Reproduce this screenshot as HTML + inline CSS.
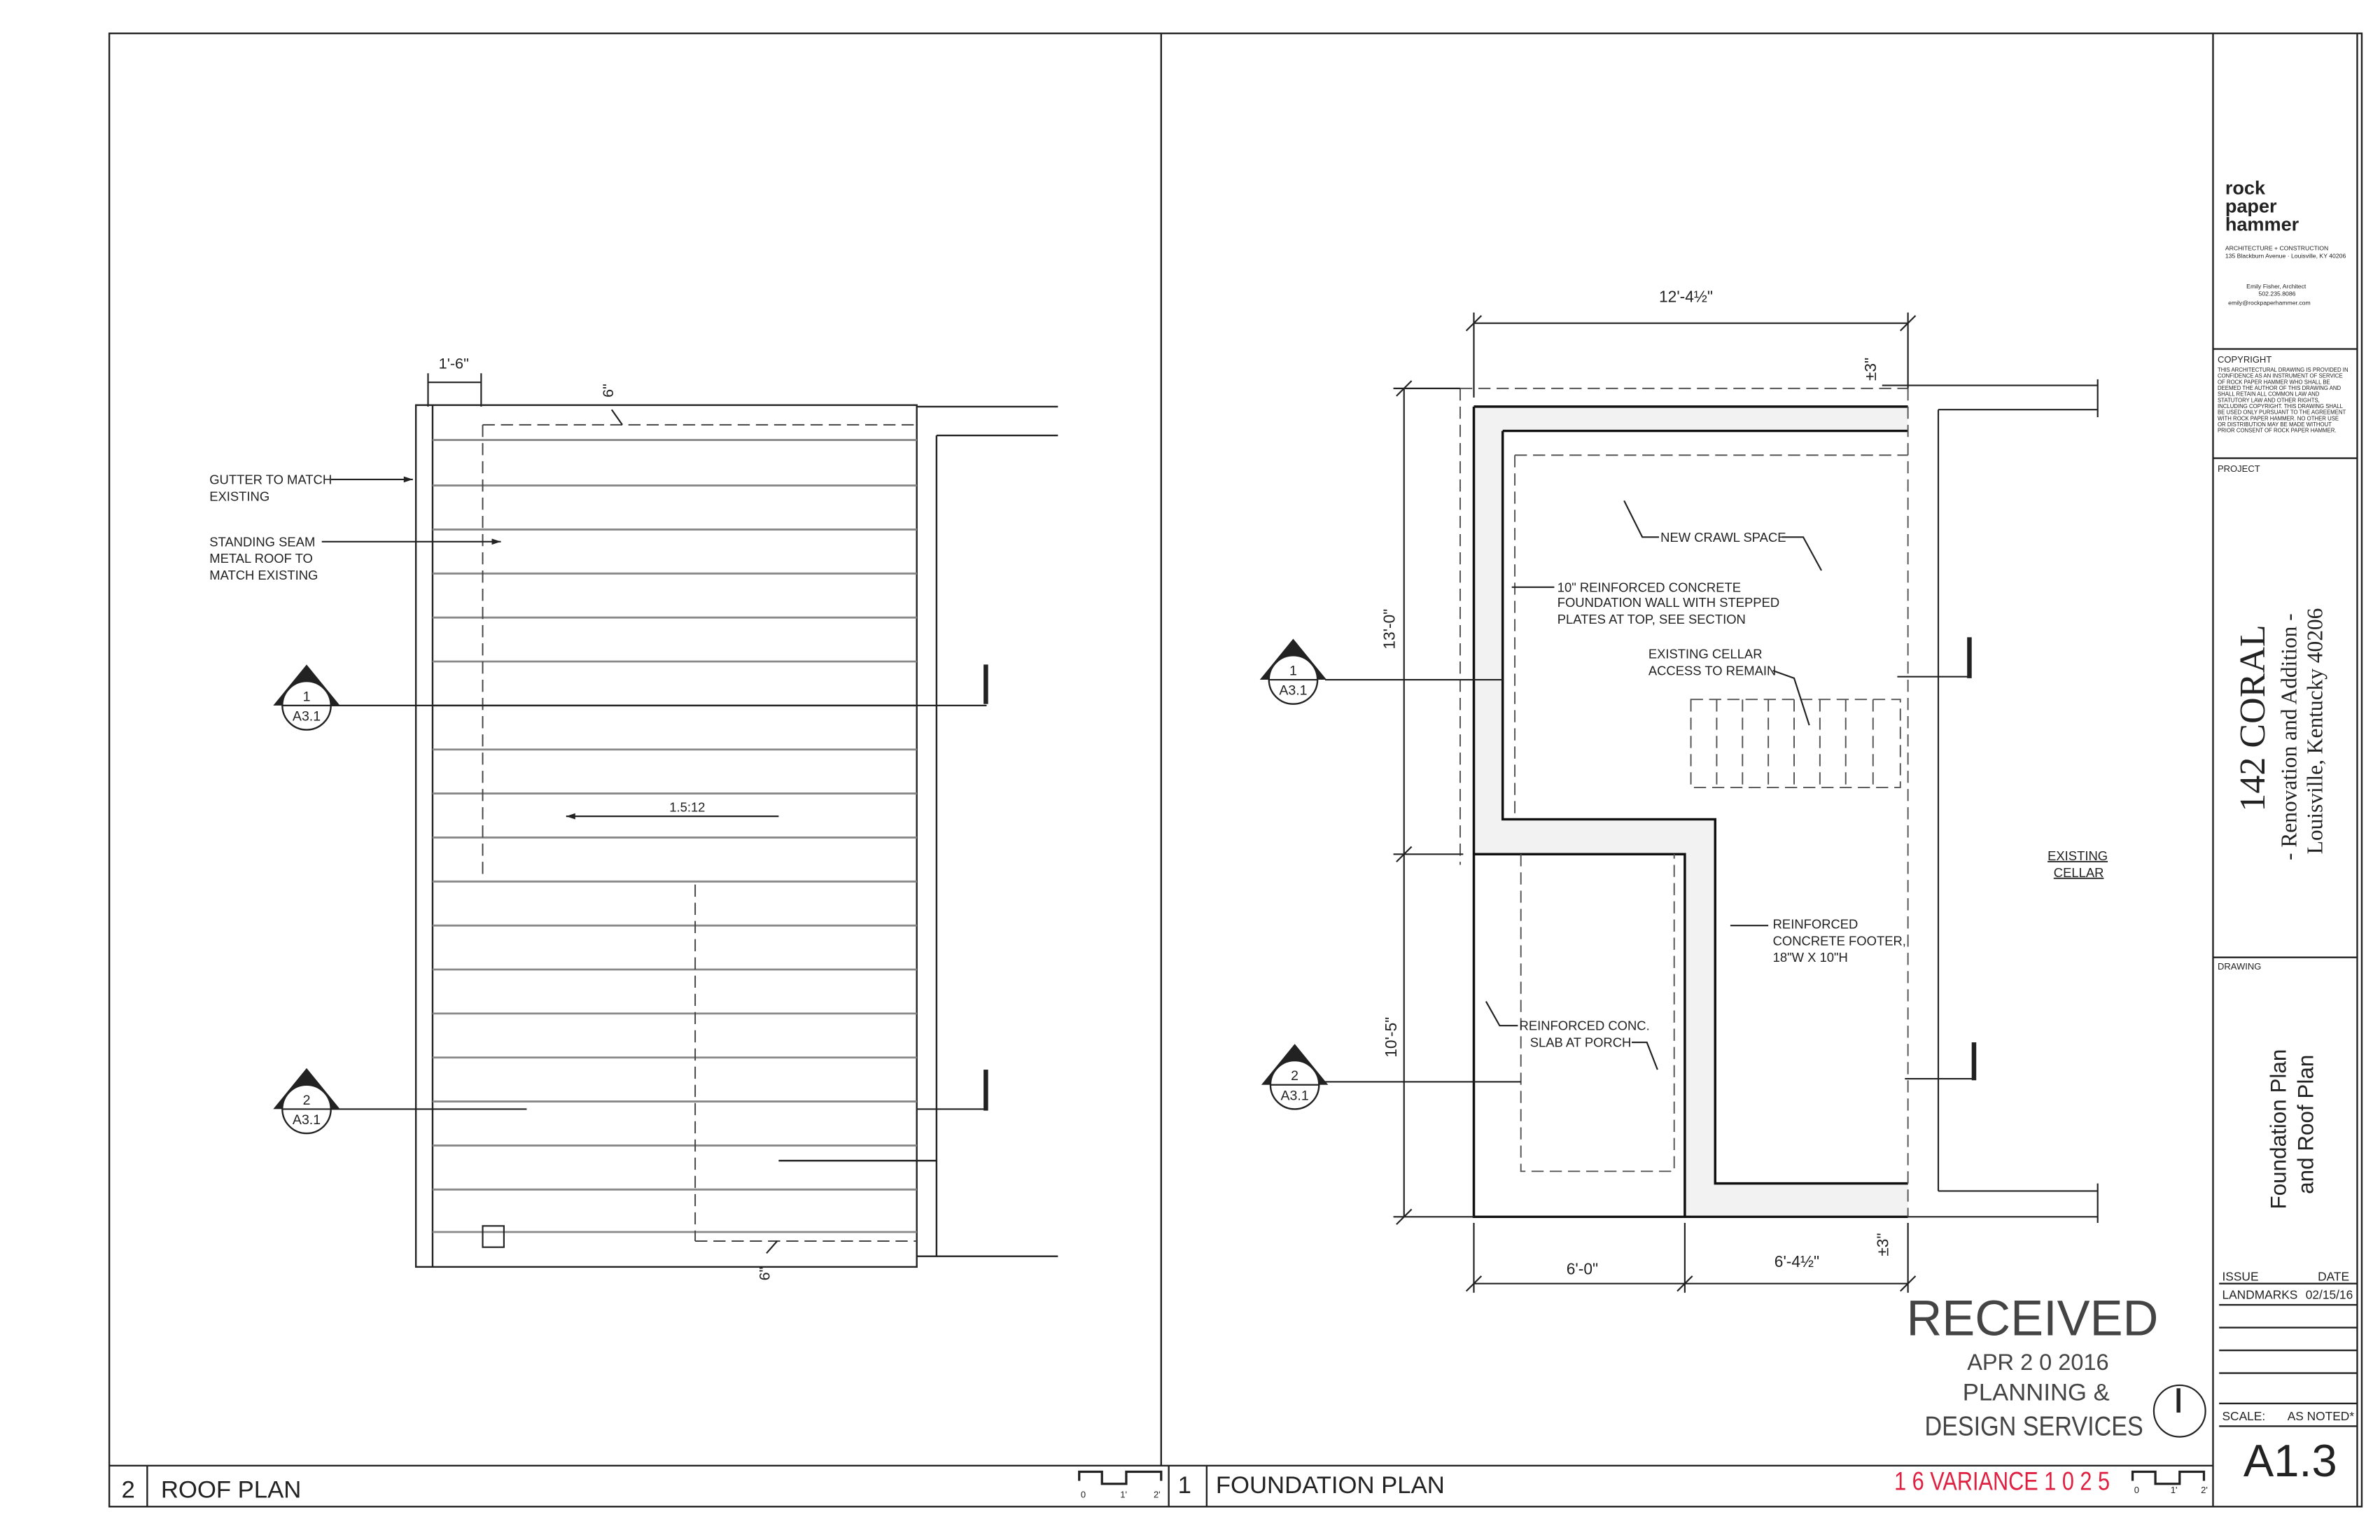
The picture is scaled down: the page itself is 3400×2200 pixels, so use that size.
<!DOCTYPE html>
<html><head><meta charset="utf-8"><style>
html,body{margin:0;padding:0;background:#fff}
svg{display:block}
text{font-family:"Liberation Sans",sans-serif;fill:#222}
</style></head><body>
<svg width="3400" height="2200" viewBox="0 0 1568 1015" preserveAspectRatio="none" xmlns="http://www.w3.org/2000/svg">
<rect width="1568" height="1015" fill="#fff"/>
<g stroke="#222" fill="none" stroke-width="1.1">
<path d="M72 22 H1556 V993 H72 Z"/>
<path d="M765 22 V966 M770 966 V993 M1458 22 V993 M72 966 H1458 M97 966 V993 M795 966 V993"/>
<path d="M1458 230 H1553 M1458 302 H1553 M1458 631 H1553 M1462 846 H1553 M1462 860 H1553 M1462 875 H1553 M1462 890 H1553 M1462 905 H1553 M1462 925 H1553 M1462 940 H1553 M1553 22 V993"/>
<rect x="274" y="267" width="330" height="568"/>
<path d="M285 267 V835"/>
<path d="M604 268 H697 M617 287 H697 M617 287 V828 M604 828 H697 M513 765 H617"/>
</g>
<g stroke="#888" stroke-width="1.3">
<path d="M285 290H604M285 320H604M285 349H604M285 378H604M285 407H604M285 436H604M285 465H604M285 494H604M285 523H604M285 552H604M285 581H604M285 610H604M285 639H604M285 668H604M285 697H604M285 726H604M285 755H604M285 784H604M285 812H604"/>
</g>
<g stroke="#444" fill="none" stroke-width="0.9" stroke-dasharray="8 4">
<path d="M318 280 V578 M318 280 H604 M458 583 V818 M458 818 H604"/>
</g>
<g stroke="#222" fill="none" stroke-width="1">
<rect x="318" y="808" width="14" height="14"/>
<path d="M282 252 H317 M282 246 V268 M317 246 V268 M373 538 H513 M218 465 H650 M218 731 H347 M604 731 H650 M218 316 H272 M212 357 H330"/>
<path d="M403 270 L410 280 M505 826 L512 818"/>
</g>
<path d="M373 538 l6 -2 v4 z M272 316 l-6 -2 v4 z M330 357 l-6 -2 v4z" fill="#222"/>
<rect x="648" y="438" width="3" height="26" fill="#222"/>
<rect x="648" y="705" width="3" height="27" fill="#222"/>
<g fill="#222">
<path d="M180 465 L202 438 L224 465 Z M180 731 L202 704 L224 731 Z M830 448 L852 421 L874 448 Z M831 715 L853 688 L875 715 Z"/>
</g>
<g stroke="#222" stroke-width="1.1" fill="#fff">
<circle cx="202" cy="465" r="16"/><circle cx="202" cy="731" r="16"/>
<circle cx="852" cy="448" r="16"/><circle cx="853" cy="715" r="16"/>
</g>
<g stroke="#222" stroke-width="1"><path d="M186 465H218M186 731H218M836 448H868M837 715H869"/></g>
<g font-size="9" text-anchor="middle">
<text x="202" y="462">1</text><text x="202" y="475">A3.1</text>
<text x="202" y="728">2</text><text x="202" y="741">A3.1</text>
<text x="852" y="445">1</text><text x="852" y="458">A3.1</text>
<text x="853" y="712">2</text><text x="853" y="725">A3.1</text>
</g>
<g font-size="8.5">
<text x="138" y="319">GUTTER TO MATCH</text><text x="138" y="330">EXISTING</text>
<text x="138" y="360">STANDING SEAM</text><text x="138" y="371">METAL ROOF TO</text><text x="138" y="382">MATCH EXISTING</text>
<text x="441" y="535">1.5:12</text>
<text x="289" y="243" font-size="10">1'-6"</text>
<text x="0" y="0" font-size="10" transform="translate(404 262) rotate(-90)">6"</text>
<text x="0" y="0" font-size="10" transform="translate(507 844) rotate(-90)">6"</text>
</g>
<g fill="#f2f2f2" stroke="none">
<path d="M971 268 H1257 V284 H990 V540 H1130 V780 H1257 V802 H1110 V563 H971 Z"/>
</g>
<g stroke="#111" fill="none" stroke-width="1.6">
<path d="M971 268 H1257 M990 284 H1257 M971 268 V802 H1257 M990 284 V540 H1130 V780 H1257 M971 563 H1110 V802"/>
</g>
<g stroke="#555" fill="none" stroke-width="0.9" stroke-dasharray="8 4">
<path d="M962 256 H1257 M962 256 V570 M998 300 V540 M998 300 H1257 M1002 563 V772 H1103 V563 M1257 256 V802"/>
<path d="M1114 461 H1252 V519 H1114 Z M1131 461V519 M1148 461V519 M1165 461V519 M1182 461V519 M1199 461V519 M1216 461V519 M1234 461V519"/>
</g>
<g stroke="#222" fill="none" stroke-width="1">
<path d="M971 213 H1257 M971 206 V262 M1257 206 V256 M925 256 V802 M918 256 H962 M918 563 H964 M918 802 H971 M971 846 H1257 M971 806 V852 M1110 806 V852 M1257 806 V852"/>
<path d="M966 218 l10 -10 M1252 218 l10 -10 M920 261 l10 -10 M920 568 l10 -10 M920 807 l10 -10 M966 851 l10 -10 M1105 851 l10 -10 M1252 851 l10 -10"/>
<path d="M1240 254 H1382 M1277 270 H1382 M1277 270 V785 M1277 785 H1382 M1257 802 H1382 M1382 250 V275 M1382 780 V806"/>
<path d="M873 448 H990 M1250 446 H1297 M873 713 H1002 M1255 711 H1300"/>
<path d="M1070 330 L1082 354 H1093 M1174 354 H1188 L1200 376 M996 387 H1024 M1168 442 L1182 447 L1192 478 M1140 610 H1165 M979 660 L988 676 H1000 M1075 687 L1085 687 L1092 705"/>
</g>
<rect x="1296" y="420" width="3" height="27" fill="#222"/>
<rect x="1299" y="687" width="3" height="25" fill="#222"/>
<g font-size="8.5">
<text x="1094" y="357">NEW CRAWL SPACE</text>
<text x="1026" y="390">10" REINFORCED CONCRETE</text>
<text x="1026" y="400">FOUNDATION WALL  WITH STEPPED</text>
<text x="1026" y="411">PLATES AT TOP, SEE SECTION</text>
<text x="1086" y="434">EXISTING CELLAR</text>
<text x="1086" y="445">ACCESS TO REMAIN</text>
<text x="1168" y="612">REINFORCED</text>
<text x="1168" y="623">CONCRETE FOOTER,</text>
<text x="1168" y="634">18"W X 10"H</text>
<text x="1001" y="679">REINFORCED CONC.</text>
<text x="1008" y="690">SLAB AT PORCH</text>
<text x="1349" y="567" text-decoration="underline">EXISTING</text>
<text x="1353" y="578" text-decoration="underline">CELLAR</text>
</g>
<g font-size="10.5">
<text x="1093" y="199">12'-4½"</text>
<text x="1032" y="840">6'-0"</text>
<text x="1169" y="835">6'-4½"</text>
<text transform="translate(919 428) rotate(-90)">13'-0"</text>
<text transform="translate(920 697) rotate(-90)">10'-5"</text>
<text transform="translate(1236 251) rotate(-90)">±3"</text>
<text transform="translate(1244 828) rotate(-90)">±3"</text>
</g>
<g>
<text x="1256" y="880" font-size="33" textLength="166" lengthAdjust="spacingAndGlyphs" style="fill:#444">RECEIVED</text>
<text x="1296" y="903" font-size="15" style="fill:#444">APR 2 0 2016</text>
<text x="1293" y="923" font-size="16" style="fill:#444">PLANNING &amp;</text>
<text x="1268" y="946" font-size="18" textLength="144" lengthAdjust="spacingAndGlyphs" style="fill:#444">DESIGN SERVICES</text>
</g>
<circle cx="1436" cy="930" r="17" fill="none" stroke="#222" stroke-width="1"/>
<rect x="1434" y="915" width="2.5" height="16" fill="#222"/>
<text x="1248" y="982" font-size="17" style="fill:#e02040" textLength="142" lengthAdjust="spacingAndGlyphs">1 6  VARIANCE 1 0 2 5</text>
<text x="80" y="987" font-size="16">2</text>
<text x="106" y="987" font-size="16">ROOF PLAN</text>
<text x="776" y="984" font-size="16">1</text>
<text x="801" y="984" font-size="16">FOUNDATION PLAN</text>
<g stroke="#222" fill="none" stroke-width="1.5">
<path d="M711 976 V970 H726 V978 H742 V970 H765 V976"/>
<path d="M1405 976 V970 H1420 V978 H1436 V970 H1452 V976"/>
</g>
<g font-size="6"><text x="712" y="987">0</text><text x="738" y="987">1'</text><text x="760" y="987">2'</text>
<text x="1406" y="984">0</text><text x="1430" y="984">1'</text><text x="1450" y="984">2'</text></g>
<g font-weight="bold" font-size="12.5"><text x="1466" y="128">rock</text><text x="1466" y="140">paper</text><text x="1466" y="152">hammer</text></g>
<g font-size="4"><text x="1466" y="165">ARCHITECTURE + CONSTRUCTION</text><text x="1466" y="170">135 Blackburn Avenue · Louisville, KY 40206</text>
<text x="1480" y="190">Emily Fisher, Architect</text><text x="1488" y="195">502.235.8086</text><text x="1468" y="201">emily@rockpaperhammer.com</text></g>
<text x="1461" y="239" font-size="6">COPYRIGHT</text>
<g font-size="3.6"><text x="1461" y="245">THIS ARCHITECTURAL DRAWING IS PROVIDED IN</text><text x="1461" y="249">CONFIDENCE AS AN INSTRUMENT OF SERVICE</text><text x="1461" y="253">OF ROCK PAPER HAMMER WHO SHALL BE</text><text x="1461" y="257">DEEMED THE AUTHOR OF THIS DRAWING AND</text><text x="1461" y="261">SHALL RETAIN ALL COMMON LAW AND</text><text x="1461" y="265">STATUTORY LAW AND OTHER RIGHTS,</text><text x="1461" y="269">INCLUDING COPYRIGHT. THIS DRAWING SHALL</text><text x="1461" y="273">BE USED ONLY PURSUANT TO THE AGREEMENT</text><text x="1461" y="277">WITH ROCK PAPER HAMMER. NO OTHER USE</text><text x="1461" y="281">OR DISTRIBUTION MAY BE MADE WITHOUT</text><text x="1461" y="285">PRIOR CONSENT OF ROCK PAPER HAMMER.</text></g>
<text x="1461" y="311" font-size="6">PROJECT</text>
<text x="1461" y="639" font-size="6">DRAWING</text>
<text transform="translate(1492 535) rotate(-90)" font-size="24" style="font-family:'Liberation Serif',serif">142 CORAL</text>
<text transform="translate(1513 567) rotate(-90)" font-size="14.5" style="font-family:'Liberation Serif',serif">- Renovation and Addition -</text>
<text transform="translate(1530 563) rotate(-90)" font-size="14.5" style="font-family:'Liberation Serif',serif">Louisville, Kentucky 40206</text>
<text transform="translate(1506 797) rotate(-90)" font-size="14.5">Foundation Plan</text>
<text transform="translate(1524 787) rotate(-90)" font-size="14.5">and Roof Plan</text>
<g font-size="8"><text x="1464" y="844">ISSUE</text><text x="1527" y="844">DATE</text>
<text x="1464" y="856">LANDMARKS</text><text x="1519" y="856">02/15/16</text>
<text x="1464" y="936">SCALE:</text><text x="1507" y="936">AS NOTED*</text></g>
<text x="1478" y="973" font-size="30">A1.3</text>
</svg>
</body></html>
